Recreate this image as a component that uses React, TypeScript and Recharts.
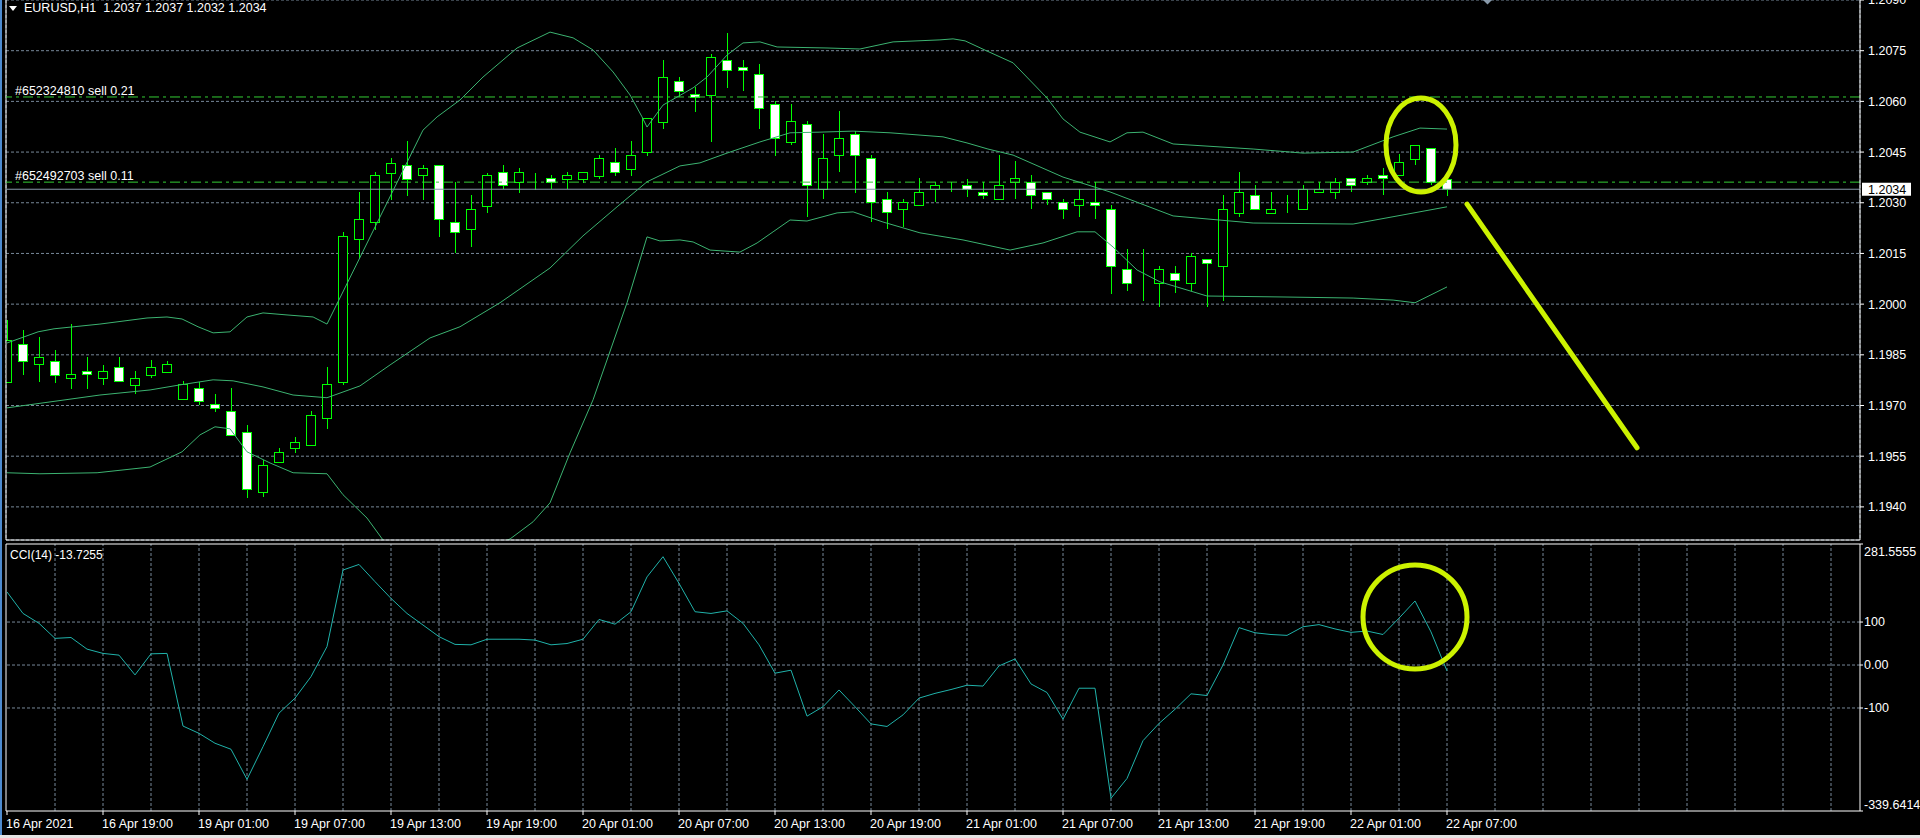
import React from 'react';
import {
  ComposedChart,
  LineChart,
  Bar,
  Line,
  XAxis,
  YAxis,
  CartesianGrid,
  ReferenceLine,
  ReferenceDot,
} from 'recharts';

const FONT = "'Liberation Sans', Arial, sans-serif";
const GRID = '#778899';
const CANDLE = '#00ff00';
const BANDS = '#3cb371';
const YELLOW = '#ccf200';

// EURUSD H1, 16 Apr 13:00 .. 22 Apr 07:00 (bar index 0..90)
const timeLabels = [
  '16 Apr 2021', '16 Apr 19:00', '19 Apr 01:00', '19 Apr 07:00', '19 Apr 13:00', '19 Apr 19:00',
  '20 Apr 01:00', '20 Apr 07:00', '20 Apr 13:00', '20 Apr 19:00', '21 Apr 01:00', '21 Apr 07:00',
  '21 Apr 13:00', '21 Apr 19:00', '22 Apr 01:00', '22 Apr 07:00',
];
const timeTicks = [0, 6, 12, 18, 24, 30, 36, 42, 48, 54, 60, 66, 72, 78, 84, 90];

const opens = [
  1.1977, 1.19881, 1.19822, 1.19831, 1.1978, 1.19801, 1.1978, 1.19813, 1.19762, 1.19791,
  1.198, 1.1972, 1.19751, 1.19704, 1.19683, 1.19621, 1.19443, 1.19532, 1.19574, 1.19583,
  1.19662, 1.19771, 1.20192, 1.20242, 1.20389, 1.20411, 1.20381, 1.20411, 1.20242, 1.20222,
  1.20291, 1.2039, 1.20361, 1.20381, 1.20372, 1.20371, 1.20371, 1.2038, 1.2042, 1.20401,
  1.20451, 1.2054, 1.2066, 1.20621, 1.2062, 1.20722, 1.20701, 1.20681, 1.20591, 1.20481,
  1.20532, 1.2034, 1.20441, 1.20503, 1.20432, 1.2031, 1.20281, 1.20293, 1.2034, 1.2034,
  1.20352, 1.20331, 1.2031, 1.20362, 1.20361, 1.20331, 1.20301, 1.20293, 1.20301, 1.20281,
  1.20103, 1.20072, 1.20062, 1.20091, 1.20062, 1.20133, 1.20113, 1.20271, 1.20322, 1.20271,
  1.20293, 1.20281, 1.20331, 1.20331, 1.20372, 1.20361, 1.20381, 1.20381, 1.2043, 1.20461,
  1.2037,
];
const highs = [
  1.19953, 1.19924, 1.19902, 1.19865, 1.19941, 1.19843, 1.19821, 1.19843, 1.19802, 1.19835,
  1.19831, 1.19774, 1.19771, 1.19733, 1.19751, 1.19643, 1.19539, 1.19575, 1.19608, 1.19684,
  1.19813, 1.20213, 1.20332, 1.2039, 1.20432, 1.20482, 1.20412, 1.20411, 1.20361, 1.20322,
  1.20389, 1.20412, 1.20402, 1.20389, 1.20381, 1.2039, 1.2039, 1.20441, 1.20462, 1.20482,
  1.2055, 1.20722, 1.20673, 1.20642, 1.2074, 1.20801, 1.20722, 1.20711, 1.20601, 1.20591,
  1.20541, 1.20503, 1.20571, 1.20512, 1.20441, 1.20331, 1.2031, 1.20372, 1.20362, 1.20362,
  1.20371, 1.20362, 1.20441, 1.20425, 1.20382, 1.20331, 1.2031, 1.2034, 1.20362, 1.20293,
  1.20163, 1.20163, 1.20113, 1.20113, 1.20151, 1.20133, 1.20322, 1.20391, 1.20352, 1.20331,
  1.20322, 1.20352, 1.20362, 1.20372, 1.20372, 1.20382, 1.20402, 1.20444, 1.2047, 1.20461,
  1.2037,
];
const lows = [
  1.19767, 1.19791, 1.19771, 1.19766, 1.1975, 1.1975, 1.1976, 1.1977, 1.19733, 1.1978,
  1.19799, 1.19719, 1.19702, 1.19682, 1.19612, 1.19426, 1.1943, 1.19532, 1.19559, 1.19583,
  1.19631, 1.19761, 1.20135, 1.2022, 1.20308, 1.20321, 1.20308, 1.202, 1.20151, 1.2017,
  1.20271, 1.2034, 1.2033, 1.20338, 1.2034, 1.2034, 1.20359, 1.2037, 1.2038, 1.2038,
  1.20439, 1.20519, 1.20614, 1.2057, 1.20481, 1.20641, 1.2063, 1.20519, 1.20439, 1.2047,
  1.20259, 1.2031, 1.2039, 1.2033, 1.20243, 1.20222, 1.20229, 1.20293, 1.20301, 1.20331,
  1.20316, 1.2031, 1.2031, 1.2031, 1.20281, 1.20293, 1.20251, 1.20259, 1.20251, 1.2003,
  1.2004, 1.2001, 1.19991, 1.20032, 1.2004, 1.19991, 1.2001, 1.20259, 1.20281, 1.20271,
  1.20271, 1.20281, 1.20331, 1.2031, 1.20331, 1.20352, 1.20322, 1.20381, 1.20411, 1.20352,
  1.2032,
];
const closes = [
  1.19894, 1.19831, 1.19843, 1.19791, 1.19793, 1.19793, 1.19801, 1.19772, 1.19781, 1.19813,
  1.19822, 1.19763, 1.19712, 1.19692, 1.19612, 1.19452, 1.19523, 1.19562, 1.19591, 1.19672,
  1.19763, 1.20202, 1.20251, 1.20381, 1.20419, 1.20371, 1.20402, 1.20251, 1.20213, 1.20281,
  1.20381, 1.20352, 1.2039, 1.20382, 1.20361, 1.20381, 1.2039, 1.20432, 1.2039, 1.20441,
  1.2055, 1.20671, 1.2063, 1.20612, 1.2073, 1.20692, 1.20692, 1.2058, 1.20491, 1.20541,
  1.20352, 1.20432, 1.20491, 1.20441, 1.20301, 1.20272, 1.20301, 1.20331, 1.20352, 1.20341,
  1.20342, 1.20322, 1.20352, 1.20372, 1.20322, 1.2031, 1.20281, 1.2031, 1.20293, 1.20113,
  1.20062, 1.20071, 1.20103, 1.20072, 1.20143, 1.20121, 1.20281, 1.20331, 1.20281, 1.20281,
  1.20292, 1.2034, 1.2034, 1.20361, 1.20352, 1.20372, 1.20372, 1.20421, 1.2047, 1.20362,
  1.2034,
];

const cciValues = [
  170, 120, 97, 62, 64, 37, 27, 23, -23, 26,
  27, -142, -159, -182, -196, -266, -190, -112, -77, -27,
  43, 221, 234, 194, 155, 120, 93, 66, 48, 47,
  60, 60, 60, 58, 47, 50, 60, 106, 95, 124,
  205, 252, 190, 124, 120, 126, 97, 47, -19, -12,
  -119, -97, -58, -97, -137, -143, -116, -77, -66, -57,
  -47, -49, -2, 14, -44, -64, -126, -54, -54, -310,
  -264, -176, -136, -103, -67, -71, 0, 87, 75, 71,
  69, 89, 94, 84, 76, 79, 71, 109, 149, 77,
  -13.7255,
];

// Bollinger bands at [bar index, price]
const upperBand = [
  [0, 1.19885], [1.94, 1.19918], [2.94, 1.19927], [5.81, 1.19941], [8.75, 1.19959], [10, 1.19962],
  [10.94, 1.19956], [11.94, 1.19933], [12.88, 1.19915], [13.94, 1.19918], [15, 1.19962], [16, 1.19974],
  [17.5, 1.19968], [19.13, 1.19962], [20, 1.19941], [26, 1.20515], [26.88, 1.20554], [28.31, 1.20604],
  [29.75, 1.20672], [31.88, 1.20758], [33.94, 1.20805], [35.38, 1.20788], [36.63, 1.20752], [37.88, 1.20687],
  [38.94, 1.20619], [39.69, 1.20554], [40, 1.20524], [41, 1.20589], [42.88, 1.2064], [43.75, 1.20672],
  [45, 1.20737], [46, 1.20773], [47.06, 1.20776], [48.13, 1.20761], [51.25, 1.20758], [53.31, 1.20755],
  [55.38, 1.20776], [58.31, 1.20782], [59.13, 1.20785], [59.88, 1.20779], [61.25, 1.20749], [62.88, 1.20714],
  [65, 1.2061], [66, 1.20548], [67.06, 1.20509], [68.94, 1.2048], [70, 1.20507], [71, 1.20509],
  [72.88, 1.20474], [77.88, 1.20459], [81, 1.20447], [84.13, 1.2045], [86.63, 1.20495], [88.31, 1.20521],
  [90, 1.20518],
];
const middleBand = [
  [0, 1.19693], [5.81, 1.19731], [8.94, 1.19746], [10.81, 1.19761], [12.88, 1.19776], [14.13, 1.19773],
  [16, 1.19755], [17.88, 1.19731], [20, 1.19723], [22.06, 1.19758], [23.94, 1.1982], [26.44, 1.199],
  [28.31, 1.19933], [30.81, 1.20004], [33.94, 1.20107], [36, 1.20202], [38.13, 1.20288], [40, 1.20362],
  [42.06, 1.20409], [43.31, 1.20418], [45, 1.20447], [47.06, 1.2048], [48.94, 1.20507], [50.81, 1.20509],
  [52.88, 1.20512], [55.19, 1.20507], [58.5, 1.20495], [60, 1.20477], [61.31, 1.20459], [62.88, 1.20441],
  [66, 1.20376], [68.94, 1.20332], [72.88, 1.20261], [77.88, 1.2024], [84.13, 1.20237], [87.25, 1.20264],
  [90, 1.20288],
];
const lowerBand = [
  [0, 1.19501], [2.06, 1.19498], [5.63, 1.19501], [8.94, 1.19518], [10.94, 1.19563], [12.06, 1.19613],
  [13, 1.19637], [13.94, 1.19631], [15, 1.19563], [16.44, 1.1953], [17.88, 1.19501], [20, 1.19498],
  [21, 1.19436], [22.5, 1.19367], [23.5, 1.19302], [25.19, 1.19273], [27.06, 1.19255], [29.25, 1.19267],
  [31.44, 1.19305], [32.88, 1.19356], [33.94, 1.19412], [35.19, 1.1956], [36.63, 1.19717], [38.75, 1.20004],
  [40, 1.20199], [40.81, 1.20187], [42.06, 1.2019], [42.88, 1.20184], [43.94, 1.2016], [45.81, 1.20154],
  [46.88, 1.20181], [47.88, 1.20214], [48.94, 1.20249], [50, 1.20246], [51.88, 1.2027], [52.88, 1.20273],
  [54.75, 1.20243], [57.06, 1.20211], [59.75, 1.2019], [62.69, 1.2016], [64.75, 1.20181], [66.88, 1.20214],
  [68, 1.20214], [69.13, 1.20169], [70.63, 1.20101], [72.06, 1.20066], [75, 1.20024], [80, 1.20021],
  [84.13, 1.20018], [86.63, 1.20012], [88, 1.20004], [90, 1.20051],
];

const priceTicks = [1.209, 1.2075, 1.206, 1.2045, 1.203, 1.2015, 1.2, 1.1985, 1.197, 1.1955, 1.194];
const priceDomain = [1.19302, 1.209];
const cciTicks = [281.5555, 100, 0, -100, -339.6414];
const cciTickLabels = ['281.5555', '100', '0.00', '-100', '-339.6414'];
const cciGridLevels = [100, 0, -100];

const orders = [
  { price: 1.20613, label: '#652324810 sell 0.21' },
  { price: 1.20361, label: '#652492703 sell 0.11' },
];
const bid = 1.2034;
const header = 'EURUSD,H1  1.2037 1.2037 1.2032 1.2034';
const cciHeader = 'CCI(14) -13.7255';

const xDomain = [-0.0625, 115.8125];
const gridTicks = Array.from({ length: 38 }, (_, k) => 3 + 3 * k);

const candles = opens.map((o, i) => ({
  i,
  o,
  h: highs[i],
  l: lows[i],
  c: closes[i],
  cci: cciValues[i],
}));
const toPts = (arr: number[][]) => arr.map(([i, v]) => ({ i, v }));

const Candle = (props: any) => {
  const { x, y, width, height, payload } = props;
  if (x == null || y == null) return null;
  const { o, h, l, c } = payload;
  const cx = Math.round(x + width / 2) + 0.5;
  const k = height / (h - l);
  const yo = y + (h - o) * k;
  const yc = y + (h - c) * k;
  const top = Math.round(Math.min(yo, yc)) + 0.5;
  const bot = Math.round(Math.max(yo, yc)) + 0.5;
  return (
    <g>
      <line x1={cx} x2={cx} y1={Math.round(y)} y2={Math.round(y + height)} stroke={CANDLE} strokeWidth={1} />
      <rect x={cx - 5} y={top} width={9} height={bot - top} fill={c > o ? '#000' : '#fff'} stroke={CANDLE} strokeWidth={1} />
    </g>
  );
};

const orderLabel = (text: string) => (props: any) => {
  const vb = props.viewBox;
  return (
    <text x={vb.x + 9} y={vb.y - 2} fill="#fff" fontSize={12.5} fontFamily={FONT}>
      {text}
    </text>
  );
};

const PriceTag = (props: any) => {
  const vb = props.viewBox;
  const x = vb.x + vb.width + 2;
  return (
    <g>
      <rect x={x} y={vb.y - 6.5} width={49} height={13} fill="#fff" />
      <text x={x + 6} y={vb.y + 4.5} fill="#000" fontSize={12.5} fontFamily={FONT}>
        {bid.toFixed(4)}
      </text>
    </g>
  );
};

const TimeTick = (props: any) => {
  const { x, y, payload } = props;
  const idx = timeTicks.indexOf(payload.value);
  if (idx < 0) return null;
  return (
    <g>
      <line x1={x} x2={x} y1={y} y2={y + 4} stroke="#fff" />
      <text x={x - 1} y={y + 17} fill="#fff" fontSize={12.5} fontFamily={FONT}>
        {timeLabels[idx]}
      </text>
    </g>
  );
};

const CciTick = (props: any) => {
  const { x, y, payload } = props;
  const idx = cciTicks.indexOf(payload.value);
  const dy = idx === 0 ? 12 : idx === cciTicks.length - 1 ? -2 : 4.3;
  return (
    <text x={x} y={y + dy} fill="#fff" fontSize={12.5} fontFamily={FONT} textAnchor="start">
      {cciTickLabels[idx]}
    </text>
  );
};

const HighlightEllipse = (rx: number, ry: number) => (props: any) => (
  <ellipse cx={props.cx} cy={props.cy} rx={rx} ry={ry} fill="none" stroke={YELLOW} strokeWidth={5} />
);

export default function App() {
  return (
    <div style={{ position: 'absolute', left: 0, top: 0, width: 1920, height: 838, background: '#000', overflow: 'hidden', fontFamily: FONT }}>
      <div style={{ position: 'absolute', left: 0, top: 0 }}>
        <ComposedChart width={1920} height={541} data={candles} margin={{ top: 0, right: 0, left: 6, bottom: 0 }}>
          <CartesianGrid stroke={GRID} strokeDasharray="3 2" />
          <XAxis
            type="number"
            dataKey="i"
            domain={xDomain}
            ticks={gridTicks}
            interval={0}
            allowDataOverflow
            height={1}
            tick={false}
            tickLine={false}
            axisLine={{ stroke: '#fff' }}
          />
          <YAxis
            orientation="right"
            width={60}
            domain={priceDomain}
            ticks={priceTicks}
            interval={0}
            allowDataOverflow
            axisLine={{ stroke: '#fff' }}
            tickLine={{ stroke: '#fff' }}
            tickSize={4}
            tickMargin={4}
            tick={{ fill: '#fff', fontSize: 12.5, fontFamily: FONT }}
            tickFormatter={(v: number) => v.toFixed(4)}
          />
          <ReferenceLine x={xDomain[0]} stroke="#fff" />
          {orders.map((o) => (
            <ReferenceLine key={o.label} y={o.price} stroke="#33cc33" strokeDasharray="10 4 3 4" label={orderLabel(o.label)} />
          ))}
          <ReferenceLine y={bid} stroke="#8899aa" label={PriceTag} />
          <Line data={toPts(upperBand)} dataKey="v" type="linear" stroke={BANDS} strokeWidth={1} dot={false} isAnimationActive={false} />
          <Line data={toPts(middleBand)} dataKey="v" type="linear" stroke={BANDS} strokeWidth={1} dot={false} isAnimationActive={false} />
          <Line data={toPts(lowerBand)} dataKey="v" type="linear" stroke={BANDS} strokeWidth={1} dot={false} isAnimationActive={false} />
          <Bar dataKey={(d: any) => [d.l, d.h]} shape={Candle} barSize={10} isAnimationActive={false} />
          <ReferenceDot x={88.375} y={1.20471} shape={HighlightEllipse(35, 47)} />
          <ReferenceLine
            segment={[{ x: 91.25, y: 1.20296 }, { x: 101.875, y: 1.19575 }]}
            stroke={YELLOW}
            strokeWidth={5}
            strokeLinecap="round"
          />
        </ComposedChart>
      </div>

      <div style={{ position: 'absolute', left: 0, top: 543 }}>
        <LineChart width={1920} height={295} data={candles} margin={{ top: 1, right: 0, left: 6, bottom: 0 }}>
          <XAxis
            type="number"
            dataKey="i"
            domain={xDomain}
            ticks={timeTicks}
            interval={0}
            allowDataOverflow
            height={27}
            tickSize={0}
            tickMargin={0}
            tickLine={false}
            axisLine={{ stroke: '#fff' }}
            tick={<TimeTick />}
          />
          <YAxis
            orientation="right"
            width={60}
            domain={[cciTicks[cciTicks.length - 1], cciTicks[0]]}
            ticks={cciTicks}
            interval={0}
            allowDataOverflow
            axisLine={{ stroke: '#fff' }}
            tickLine={{ stroke: '#fff' }}
            tickSize={3}
            tickMargin={1}
            tick={<CciTick />}
          />
          {gridTicks.map((t) => (
            <ReferenceLine key={'v' + t} x={t} stroke={GRID} strokeDasharray="3 2" />
          ))}
          {cciGridLevels.map((lv) => (
            <ReferenceLine key={'h' + lv} y={lv} stroke={GRID} strokeDasharray="3 2" />
          ))}
          <ReferenceLine y={cciTicks[0]} stroke="#fff" />
          <ReferenceLine x={xDomain[0]} stroke="#fff" />
          <Line dataKey="cci" type="linear" stroke="#20b2aa" strokeWidth={1} dot={false} isAnimationActive={false} />
          <ReferenceDot x={88} y={112} shape={HighlightEllipse(52, 52)} />
        </LineChart>
      </div>

      <svg style={{ position: 'absolute', left: 0, top: 0 }} width={1920} height={20}>
        <polygon points="9,6 17,6 13,11" fill="#fff" />
        <polygon points="1483,0 1492,0 1487.5,4.5" fill="#8899aa" />
      </svg>
      <div style={{ position: 'absolute', left: 24, top: 1, fontSize: 12.5, lineHeight: '14px', color: '#fff', whiteSpace: 'pre' }}>
        {header}
      </div>
      <div style={{ position: 'absolute', left: 10, top: 548, fontSize: 12, lineHeight: '14px', color: '#fff', whiteSpace: 'pre' }}>
        {cciHeader}
      </div>
      <div style={{ position: 'absolute', left: 0, top: 0, width: 2, height: 838, background: '#4d8bd0' }} />
      <div style={{ position: 'absolute', left: 0, top: 835, width: 1920, height: 3, background: '#e4e4e4' }} />
    </div>
  );
}
